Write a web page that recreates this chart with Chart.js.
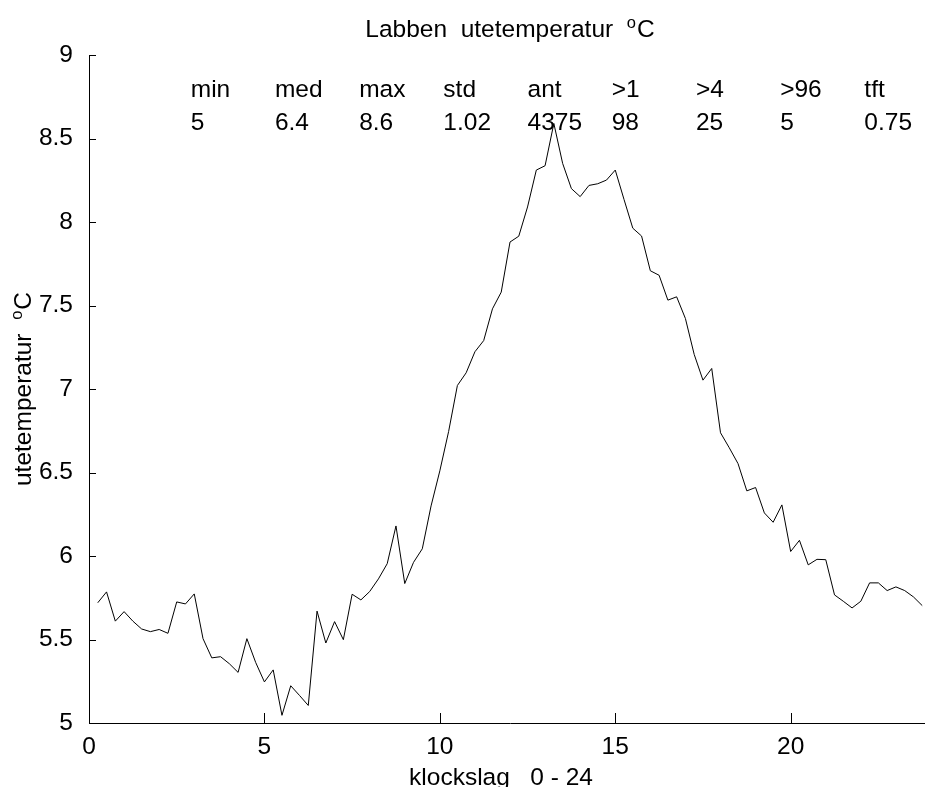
<!DOCTYPE html>
<html>
<head>
<meta charset="utf-8">
<script src="https://cdn.jsdelivr.net/npm/chart.js@4.4.1/dist/chart.umd.min.js"></script>
<style>
html,body{margin:0;padding:0;overflow:hidden;background:#fff;}
canvas{display:block;}
</style>
</head>
<body>
<canvas id="c" width="940" height="787"></canvas>
<script>
// ---- data ----
const hours = [];
for (let i = 1; i <= 95; i++) hours.push(i * 0.25);
const temperature = [
  5.72, 5.785, 5.61, 5.667, 5.61, 5.563, 5.547, 5.56, 5.537, 5.725, 5.713, 5.773,
  5.505, 5.39, 5.397, 5.355, 5.303, 5.505, 5.363, 5.246, 5.318, 5.046, 5.223, 5.165,
  5.105, 5.67, 5.479, 5.607, 5.499, 5.771, 5.737, 5.787, 5.863, 5.954, 6.18, 5.835,
  5.962, 6.043, 6.3, 6.51, 6.745, 7.021, 7.097, 7.223, 7.29, 7.48, 7.58, 7.88,
  7.915, 8.09, 8.311, 8.337, 8.59, 8.351, 8.2, 8.152, 8.219, 8.229, 8.251, 8.311,
  8.135, 7.963, 7.916, 7.708, 7.681, 7.532, 7.552, 7.422, 7.207, 7.053, 7.123, 6.738,
  6.648, 6.553, 6.39, 6.41, 6.258, 6.202, 6.306, 6.027, 6.094, 5.947, 5.98, 5.978,
  5.767, 5.729, 5.689, 5.729, 5.839, 5.839, 5.793, 5.815, 5.793, 5.755, 5.703
];
const xTickValues = [0, 5, 10, 15, 20];
const xTickLabels = ['0', '5', '10', '15', '20'];
const yTickValues = [5, 5.5, 6, 6.5, 7, 7.5, 8, 8.5, 9];
const yTickLabels = ['5', '5.5', '6', '6.5', '7', '7.5', '8', '8.5', '9'];
const statNames = ['min', 'med', 'max', 'std', 'ant', '>1', '>4', '>96', 'tft'];
const statValues = ['5', '6.4', '8.6', '1.02', '4375', '98', '25', '5', '0.75'];
const titleMain = 'Labben  utetemperatur  ';
const yTitleMain = 'utetemperatur  ';
const degSup = 'o';
const degUnit = 'C';
const xTitle = 'klockslag   0 - 24';

// ---- layout constants (not data) ----
const FONT = '"Liberation Sans", Arial, sans-serif';
const FS = 24.5;
const statX0 = 2.9, statDX = 2.4, statRowY = [8.75, 8.55];

function drawWithSup(ctx, main, sup, unit, x, y, align) {
  ctx.font = FS + 'px ' + FONT;
  const w1 = ctx.measureText(main).width;
  const w3 = ctx.measureText(unit).width;
  ctx.font = '16.5px ' + FONT;
  const w2 = ctx.measureText(sup).width + 1;
  const total = w1 + w2 + w3;
  let sx = align === 'center' ? x - total / 2 : x;
  ctx.textAlign = 'left';
  ctx.textBaseline = 'alphabetic';
  ctx.font = FS + 'px ' + FONT;
  ctx.fillText(main, sx, y);
  ctx.font = '16.5px ' + FONT;
  ctx.fillText(sup, sx + w1, y - 9);
  ctx.font = FS + 'px ' + FONT;
  ctx.fillText(unit, sx + w1 + w2, y);
}

const decor = {
  id: 'decor',
  afterDraw(chart) {
    const ctx = chart.ctx;
    const xs = chart.scales.x, ys = chart.scales.y;
    const area = chart.chartArea;
    ctx.save();
    // inward tick marks
    ctx.strokeStyle = '#000';
    ctx.lineWidth = 1;
    ctx.beginPath();
    yTickValues.forEach(v => {
      const py = Math.round(ys.getPixelForValue(v)) + 0.5;
      ctx.moveTo(area.left, py);
      ctx.lineTo(area.left + 7, py);
    });
    xTickValues.forEach(v => {
      const px = Math.round(xs.getPixelForValue(v)) + 0.5;
      ctx.moveTo(px, area.bottom);
      ctx.lineTo(px, area.bottom - 10);
    });
    ctx.stroke();
    ctx.fillStyle = '#000';
    // title
    drawWithSup(ctx, titleMain, degSup, degUnit, (area.left + area.right) / 2, 37, 'center');
    // stats
    ctx.font = FS + 'px ' + FONT;
    ctx.textAlign = 'left';
    ctx.textBaseline = 'alphabetic';
    statNames.forEach((n, i) => {
      const px = xs.getPixelForValue(statX0 + statDX * i);
      ctx.fillText(n, px, ys.getPixelForValue(statRowY[0]));
      ctx.fillText(statValues[i], px, ys.getPixelForValue(statRowY[1]));
    });
    // x title
    ctx.textAlign = 'center';
    ctx.fillText(xTitle, (area.left + area.right) / 2 - 9, 785);
    // y title
    ctx.translate(31, (area.top + area.bottom) / 2);
    ctx.rotate(-Math.PI / 2);
    drawWithSup(ctx, yTitleMain, degSup, degUnit, 0, 0, 'center');
    ctx.restore();
  }
};

new Chart(document.getElementById('c'), {
  type: 'line',
  data: {
    datasets: [{
      data: hours.map((h, i) => ({ x: h, y: temperature[i] })),
      borderColor: '#000',
      borderWidth: 1,
      pointRadius: 0,
      tension: 0,
      fill: false
    }]
  },
  options: {
    responsive: false,
    animation: false,
    events: [],
    layout: { padding: { left: 0, top: 55, right: 9, bottom: 0 } },
    plugins: { legend: { display: false }, tooltip: { enabled: false }, title: { display: false } },
    scales: {
      x: {
        type: 'linear', min: 0, max: 24,
        afterBuildTicks: s => { s.ticks = xTickValues.map(v => ({ value: v })); },
        afterFit: s => { s.height = 64; },
        grid: { display: false },
        border: { display: true, color: '#000', width: 1 },
        ticks: {
          padding: 2,
          color: '#000',
          font: { family: FONT, size: FS },
          maxRotation: 0,
          callback: (v) => { const i = xTickValues.indexOf(v); return i >= 0 ? xTickLabels[i] : ''; }
        }
      },
      y: {
        type: 'linear', min: 5, max: 9,
        afterBuildTicks: s => { s.ticks = yTickValues.map(v => ({ value: v })); },
        afterFit: s => { s.width = 89; },
        grid: { display: false },
        border: { display: true, color: '#000', width: 1 },
        ticks: {
          padding: 8,
          color: '#000',
          font: { family: FONT, size: FS },
          callback: (v) => { const i = yTickValues.indexOf(v); return i >= 0 ? yTickLabels[i] : ''; }
        }
      }
    }
  },
  plugins: [decor]
});
</script>
</body>
</html>
